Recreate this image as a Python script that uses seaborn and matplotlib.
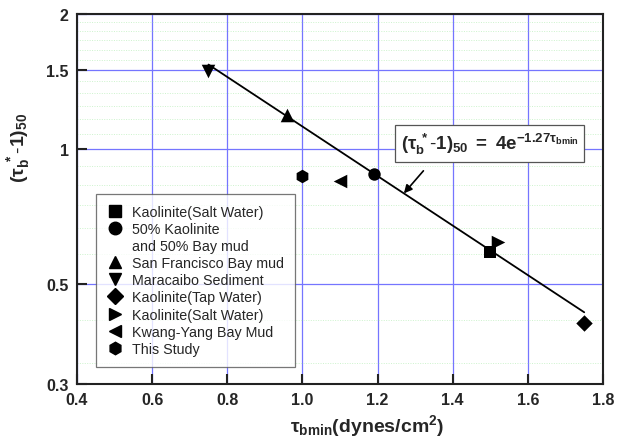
import numpy as np
import matplotlib
matplotlib.use("Agg")
import matplotlib.pyplot as plt
from matplotlib.lines import Line2D
from matplotlib.ticker import FixedLocator, NullFormatter
import seaborn as sns

# Erosion data: minimum bed shear stress vs. normalised critical stress
series_labels = [
    "Kaolinite(Salt Water)",
    "50% Kaolinite",
    "San Francisco Bay mud",
    "Maracaibo Sediment",
    "Kaolinite(Tap Water)",
    "Kaolinite(Salt Water)",
    "Kwang-Yang Bay Mud",
    "This Study",
]
tau_bmin = [1.50, 1.19, 0.96, 0.75, 1.75, 1.52, 1.10, 1.00]
tau_star = [0.59, 0.88, 1.19, 1.49, 0.41, 0.62, 0.85, 0.87]
marker_styles = ["s", "o", "^", "v", "D", ">", "<", "h"]
marker_sizes = [75, 80, 95, 95, 70, 95, 95, 95]

# Fitted relation (tau_b* - 1)_50 = a * exp(b * tau_bmin)
fit_a = 4.0
fit_b = -1.27
fit_range = [0.75, 1.75]

x_ticks = [0.4, 0.6, 0.8, 1.0, 1.2, 1.4, 1.6, 1.8]
y_ticks = [0.3, 0.5, 1, 1.5, 2]
y_tick_labels = ["0.3", "0.5", "1", "1.5", "2"]

sns.set_theme(style="white")
plt.rcParams["font.family"] = ["Liberation Sans", "DejaVu Sans"]
plt.rcParams["mathtext.fontset"] = "custom"
plt.rcParams["mathtext.rm"] = "Liberation Sans"
plt.rcParams["mathtext.it"] = "Liberation Sans:italic"
plt.rcParams["mathtext.bf"] = "Liberation Sans:bold"

fig = plt.figure(figsize=(6.26, 4.39), dpi=100)
ax = fig.add_axes([77 / 626, 1 - 385 / 439, 526 / 626, 370 / 439])
ax.set_yscale("log")

# fit curve
fx = np.array(fit_range)
fy = fit_a * np.exp(fit_b * fx)
sns.lineplot(x=fx, y=fy, ax=ax, color="black", linewidth=1.3, zorder=3,
             legend=False)

# data points
for lab, xv, yv, mk, ms in zip(series_labels, tau_bmin, tau_star,
                               marker_styles, marker_sizes):
    sns.scatterplot(x=[xv], y=[yv], ax=ax, marker=mk, color="black",
                    s=ms, edgecolor="black", linewidth=0, zorder=4,
                    legend=False)

ax.set_xlim(0.4, 1.8)
ax.set_ylim(0.3, 2)
ax.xaxis.set_major_locator(FixedLocator(x_ticks))
ax.set_xticklabels([f"{v:.1f}" for v in x_ticks])
ax.yaxis.set_major_locator(FixedLocator(y_ticks))
ax.set_yticklabels(y_tick_labels)
minor_y = [v for v in np.arange(1 / 3, 2, 1 / 12)
           if min(abs(v - t) for t in y_ticks) > 1e-6]
ax.yaxis.set_minor_locator(FixedLocator(minor_y))
ax.yaxis.set_minor_formatter(NullFormatter())
ax.xaxis.set_minor_locator(FixedLocator([]))

ax.tick_params(axis="both", which="major", direction="in", length=7,
               width=1.5, color="#222222", labelsize=11.5, pad=6)
ax.tick_params(axis="y", which="minor", direction="in", length=4,
               width=1.2, color="#222222")
ax.tick_params(left=True, bottom=True, top=False, right=False)
for lbl in ax.get_xticklabels() + ax.get_yticklabels():
    lbl.set_fontweight("bold")

# grid
ax.grid(True, which="major", axis="both", color="#7575ff", linewidth=0.9,
        zorder=0)
ax.grid(True, which="minor", axis="y", color="#cdf3cd", linewidth=0.7,
        linestyle=(0, (1, 1.5)), zorder=0)
ax.set_axisbelow(True)
for sp in ax.spines.values():
    sp.set_color("#222222")
    sp.set_linewidth(1.5)

# axis labels
ax.set_xlabel(r"$\mathbf{\tau_{bmin}}$(dynes/cm$^\mathbf{2}$)",
              fontsize=14, fontweight="bold")
ax.xaxis.set_label_coords(0.551, -0.075)
ax.set_ylabel(r"$\mathbf{(\tau_b^{\ *}\text{-}1)_{50}}$", fontsize=14,
              fontweight="bold")
ax.yaxis.set_label_coords(-0.085, 0.64)

# equation label with arrow to the fit line
arrow_x = 1.27
ax.annotate("", xy=(arrow_x, fit_a * np.exp(fit_b * arrow_x)),
            xytext=(1.322, 0.895),
            arrowprops=dict(arrowstyle="-|>", color="black", lw=1.2,
                            mutation_scale=12, shrinkA=0, shrinkB=0),
            zorder=5)
ax.text(1.499, 1.03,
        r"$\mathbf{(\tau_b^{\ *}\text{-}1)_{50}\ =\ 4e^{-1.27\tau_{bmin}}}$",
        fontsize=13.5, ha="center", va="center", zorder=6,
        bbox=dict(boxstyle="square,pad=0.3", facecolor="white",
                  edgecolor="#555555", linewidth=0.9))

# legend
handles = []
labels = []
for i, (lab, mk) in enumerate(zip(series_labels, marker_styles)):
    handles.append(Line2D([], [], linestyle="none", marker=mk,
                          color="black", markersize=9 if mk not in "sD" else 8))
    labels.append(lab)
    if i == 1:
        handles.append(Line2D([], [], linestyle="none", marker=None))
        labels.append("and 50% Bay mud")
leg = ax.legend(handles, labels, loc="lower left",
                bbox_to_anchor=(0.036, 0.047), borderaxespad=0,
                fontsize=10.3, frameon=True, fancybox=False,
                edgecolor="#555555", handlelength=1.2, handletextpad=0.6,
                labelspacing=0.22, borderpad=0.75)
leg.get_frame().set_linewidth(0.9)
leg.set_zorder(6)

fig.savefig("out.png", dpi=100)
